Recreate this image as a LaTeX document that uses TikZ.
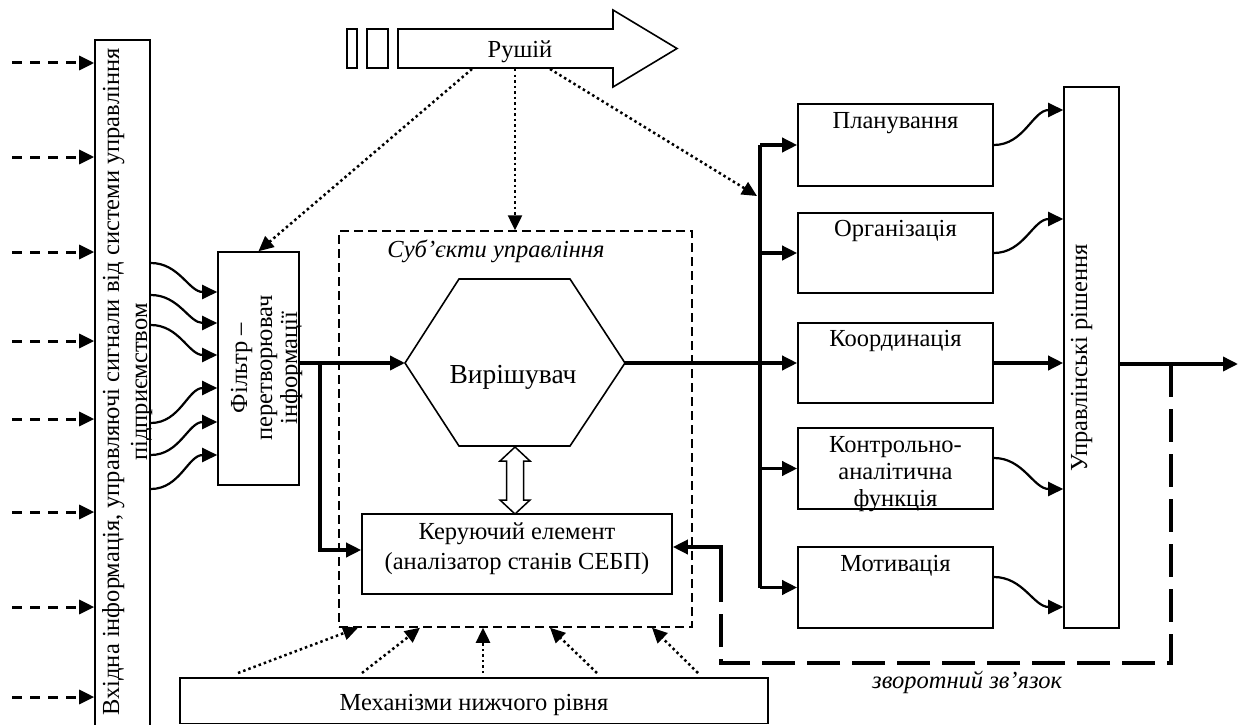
\documentclass[tikz,border=0pt]{standalone}
\usepackage{fontspec}
\setmainfont{Liberation Serif}
\usetikzlibrary{arrows.meta,calc}
\begin{document}
\begin{tikzpicture}[x=1pt,y=-1pt,
  box/.style={draw, line width=1.6pt, inner sep=0pt},
  txt/.style={font=\fontsize{24.5}{29}\selectfont, inner sep=0pt, anchor=base},
  bigtxt/.style={font=\fontsize{27.5}{32}\selectfont, inner sep=0pt, anchor=base},
  ittxt/.style={font=\fontsize{24.5}{29}\selectfont\itshape, inner sep=0pt, anchor=base},
  tip/.style={-{Triangle[length=15pt,width=14pt]}},
  thk/.style={line width=3.5pt},
  crv/.style={line width=2.2pt},
  dots/.style={line width=2.5pt, dash pattern=on 2.5pt off 3pt},
  inarrow/.style={line width=3pt, dash pattern=on 10pt off 8pt},
  fb/.style={line width=3.5pt, dash pattern=on 33pt off 12pt},
  frame/.style={draw, line width=1.5pt, dash pattern=on 9pt off 5pt, inner sep=0pt}]
\useasboundingbox (0,0) rectangle (1239,725);

% ---------- incoming information ----------
\node[box, minimum width=55, minimum height=690] (inbox) at (122.5,385) {};
\node[txt, rotate=90] (inline1) at (119,382) {Вхідна інформація, управляючі сигнали від системи управління};
\node[txt, rotate=90] (inline2) at (147,382) {підприємством};
\foreach \y [count=\i] in {63,157,252,341,419,512,607,697}
  \draw[inarrow,tip] (12,\y) coordinate (src\i) -- (src\i -| inbox.west);

% ---------- filter ----------
\node[box, minimum width=81, minimum height=233] (filter) at (258.5,368.5) {};
\node[txt, rotate=90] (fl1) at (247,368) {Фільтр –};
\node[txt, rotate=90] (fl2) at (272,368) {перетворювач};
\node[txt, rotate=90] (fl3) at (297,368) {інформації};
\foreach \a/\b in {263/292, 295/323, 325/355, 423/388, 455/422, 489/455}
  \draw[crv,tip] (inbox.east |- 0,\a) to[out=0,in=180] (filter.west |- 0,\b);

% ---------- driver arrow ----------
\node[box, minimum width=10, minimum height=39] (bar1) at (352,48.5) {};
\node[box, minimum width=21, minimum height=39] (bar2) at (377.5,48.5) {};
\draw[line width=1.6pt] (398,29) -- (613,29) -- (613,10) -- (677,48.5) -- (613,87) -- (613,68) -- (398,68) -- cycle;
\node[txt] (drv) at (520,57) {Рушій};
\coordinate (r1) at (472,69);
\coordinate (r2) at (515,69);
\coordinate (r3) at (550,69);

% ---------- subjects of management ----------
\node[frame, minimum width=353, minimum height=396] (subj) at (515.5,429) {};
\node[ittxt] (subjt) at (496,257) {Суб’єкти управління};
\draw[line width=1.6pt] (405,363) coordinate (hexL) -- (459,279) -- (570,279)
  -- (625,363) coordinate (hexR) -- (570,446) -- (459,446) -- cycle;
\node[bigtxt] (solver) at (513,383) {Вирішувач};
\node[box, minimum width=310, minimum height=80] (ker) at (517,554) {};
\node[txt] (ker1) at (517,539) {Керуючий елемент};
\node[txt] (ker2) at (517,569) {(аналізатор станів СЕБП)};
\draw[line width=1.5pt, fill=white] (515,447) -- (530,461) -- (523.5,461) -- (523.5,500) -- (530,500)
  -- (515,514) -- (500,500) -- (506.5,500) -- (506.5,461) -- (500,461) -- cycle;

% ---------- lower-level mechanisms ----------
\node[box, minimum width=588, minimum height=45.5] (mech) at (474,700.75) {};
\node[txt] (mecht) at (474,710) {Механізми нижчого рівня};
\foreach \s/\e [count=\i] in {238/358, 362/420, 483/483, 597/550, 698/652}
  \draw[dots,tip] (\s,673) coordinate (m\i) -- (subj.south -| \e,0);

% ---------- functions ----------
\node[box, minimum width=195, minimum height=82] (plan) at (895.5,145) {};
\node[txt] (plant) at (895.5,128) {Планування};
\node[box, minimum width=195, minimum height=80] (org) at (895.5,253) {};
\node[txt] (orgt) at (895.5,236) {Організація};
\node[box, minimum width=195, minimum height=80] (coord) at (895.5,363) {};
\node[txt] (coordt) at (895.5,346) {Координація};
\node[box, minimum width=195, minimum height=81] (kontr) at (895.5,468.5) {};
\node[txt] (k1) at (895.5,452) {Контрольно-};
\node[txt] (k2) at (895.5,479) {аналітична};
\node[txt] (k3) at (895.5,506) {функція};
\node[box, minimum width=195, minimum height=81] (motiv) at (895.5,587.5) {};
\node[txt] (motivt) at (895.5,571) {Мотивація};

\node[box, minimum width=55, minimum height=541] (upr) at (1091.5,357.5) {};
\node[txt, rotate=90] (uprt) at (1087,358) {Управлінські рішення};

% ---------- dotted influences of the driver ----------
\draw[dots,tip] (r1) -- (filter.north);
\draw[dots,tip] (r2) -- (r2 |- subj.north);
\coordinate (busdot) at (757,196);
\draw[dots,tip] (r3) -- (busdot);

% ---------- main flow ----------
\coordinate (split) at (320,363);
\draw[thk,tip] (filter.east |- hexL) -- (hexL);
\draw[thk,tip] (split) -- (320,550) -- (ker.west |- 0,550);
\draw[thk,tip] (hexR) -- (coord.west);
\coordinate (bus) at (760,0);
\draw[thk] (bus |- plan.west) -- (bus |- motiv.west);
\foreach \n in {plan,org,kontr,motiv}
  \draw[thk,tip] (bus |- \n.west) -- (\n.west);

% ---------- functions to decisions ----------
\draw[crv,tip] (plan.east) to[out=0,in=180] (upr.west |- 0,110);
\draw[crv,tip] (org.east) to[out=0,in=180] (upr.west |- 0,219);
\draw[thk,tip] (coord.east) -- (upr.west |- coord.east);
\draw[crv,tip] (kontr.east |- 0,458) to[out=0,in=180] (upr.west |- 0,489);
\draw[crv,tip] (motiv.east |- 0,577) to[out=0,in=180] (upr.west |- 0,607);

% ---------- output and feedback ----------
\coordinate (out) at (1238,364);
\draw[thk,tip] (upr.east |- out) -- (out);
\coordinate (fbtop) at (1171,364);
\draw[fb] (fbtop) -- (1171,663) -- (721,663) -- (721,580) coordinate (fbup);
\draw[thk,tip] (fbup) -- (721,547) -- (ker.east |- 0,547);
\node[ittxt, anchor=base west] (fbt) at (872,688) {зворотний зв’язок};
\end{tikzpicture}
\end{document}
